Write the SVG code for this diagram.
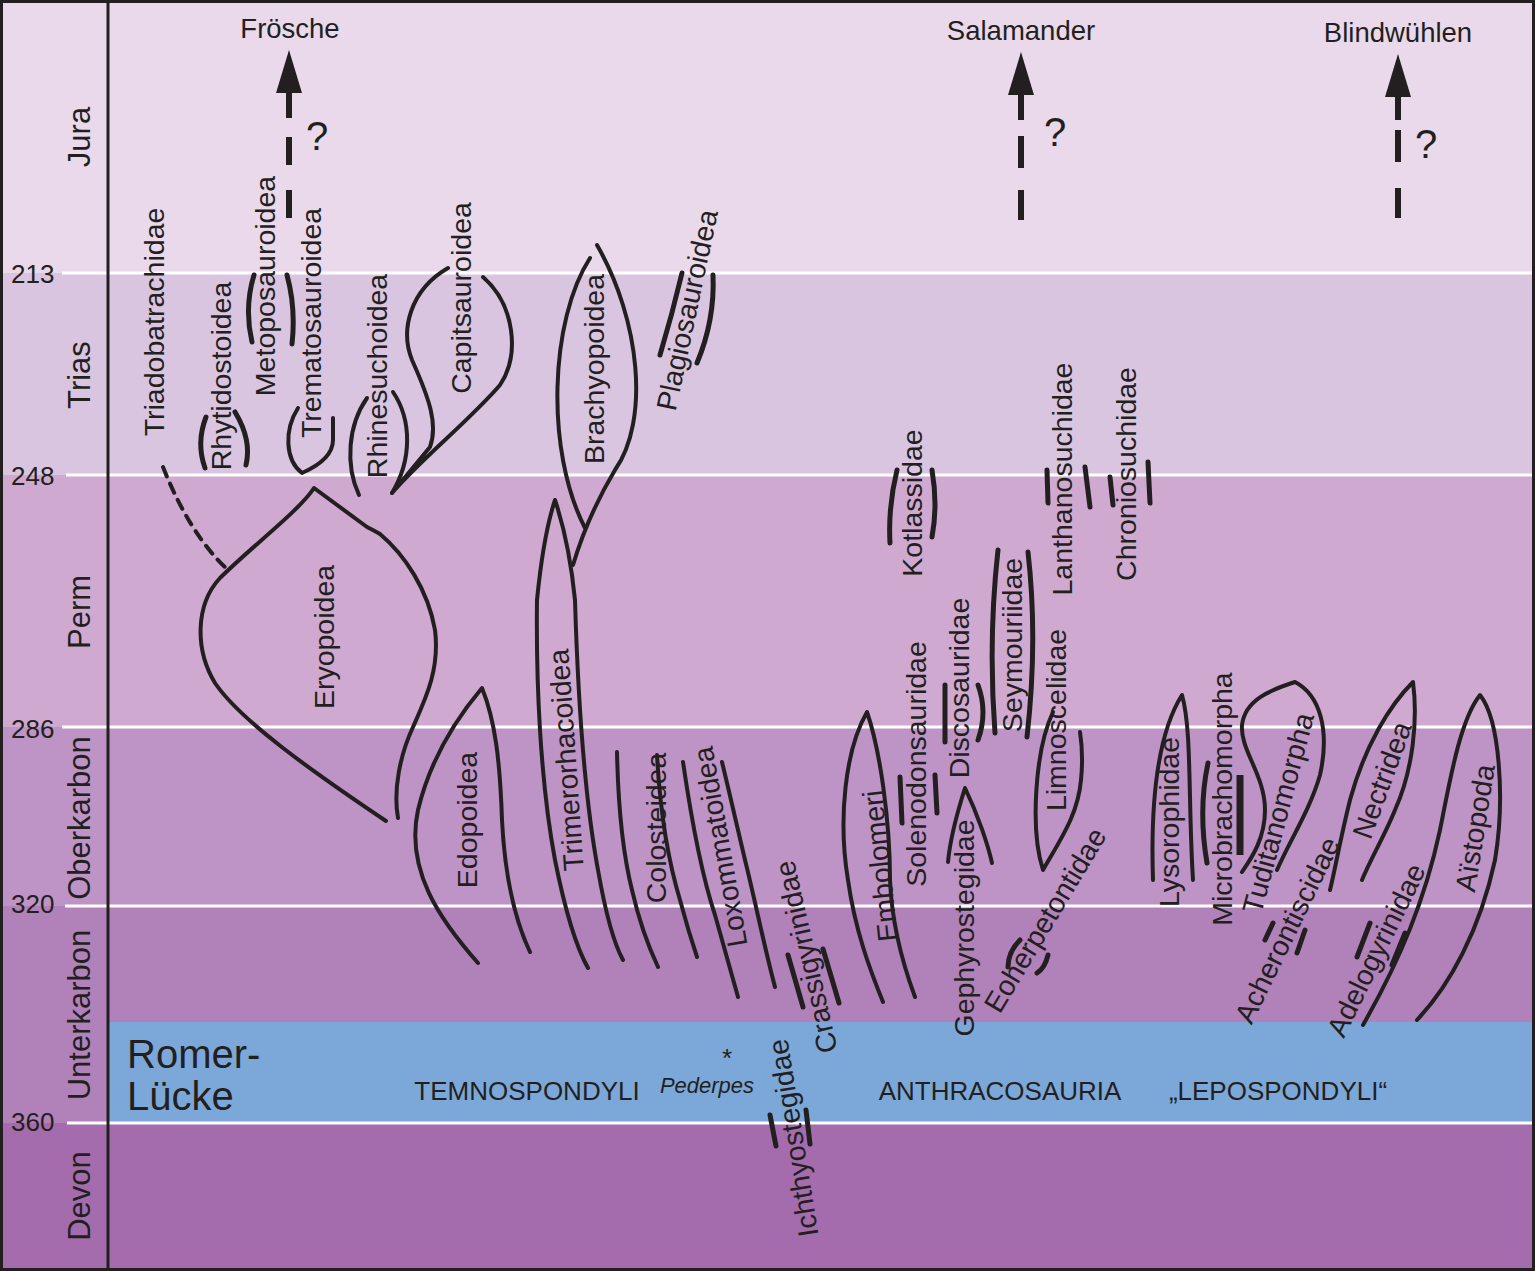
<svg xmlns="http://www.w3.org/2000/svg" width="1535" height="1271" viewBox="0 0 1535 1271">
<style>
.c{fill:none;stroke:#231f20;stroke-width:4;stroke-linecap:round;stroke-linejoin:round}
.b{fill:none;stroke:#231f20;stroke-width:5;stroke-linecap:round}
.d{fill:none;stroke:#231f20;stroke-width:6}
.wl{stroke:#fff;stroke-width:3}
.t{font-family:"Liberation Sans",Arial,sans-serif;font-size:28.5px;fill:#231f20;text-anchor:middle}
.p{font-family:"Liberation Sans",Arial,sans-serif;font-size:31px;fill:#231f20;text-anchor:middle}
.n{font-family:"Liberation Sans",Arial,sans-serif;font-size:26px;fill:#231f20}
.h{font-family:"Liberation Sans",Arial,sans-serif;font-size:26px;fill:#231f20;text-anchor:middle}
.top{font-family:"Liberation Sans",Arial,sans-serif;font-size:27.5px;fill:#231f20;text-anchor:middle}
.q{font-family:"Liberation Sans",Arial,sans-serif;font-size:40px;fill:#231f20;text-anchor:middle}
</style>
<defs>
<marker id="ah" viewBox="0 0 26 43" refX="13" refY="43" markerWidth="26" markerHeight="43" markerUnits="userSpaceOnUse" orient="0">
<path d="M13,0 L26,43 L0,43 Z" fill="#231f20"/>
</marker>
</defs>
<g id="background">
<rect x="0" y="0" width="1535" height="273" fill="#e9d9ea"/>
<rect x="0" y="273" width="1535" height="202" fill="#dac5e1"/>
<rect x="0" y="475" width="1535" height="252" fill="#cfa9cf"/>
<rect x="0" y="727" width="1535" height="179" fill="#be93c6"/>
<rect x="0" y="906" width="1535" height="217" fill="#b181b9"/>
<rect x="0" y="1123" width="1535" height="148" fill="#a46cad"/>
<rect x="108" y="1022" width="1427" height="100" fill="#7ba8d9"/>
<line class="wl" x1="62" y1="273" x2="1535" y2="273"/>
<line class="wl" x1="66" y1="475" x2="1535" y2="475"/>
<line class="wl" x1="62" y1="727" x2="1535" y2="727"/>
<line class="wl" x1="65" y1="906" x2="1535" y2="906"/>
<line class="wl" x1="67" y1="1123" x2="1535" y2="1123"/>
<rect x="1.5" y="1.5" width="1532" height="1268" fill="none" stroke="#231f20" stroke-width="3"/>
<line x1="108" y1="0" x2="108" y2="1271" stroke="#231f20" stroke-width="3"/>
</g>
<g id="timescale">
<text class="n" x="11" y="283">213</text>
<text class="n" x="11" y="485">248</text>
<text class="n" x="11" y="738">286</text>
<text class="n" x="11" y="913">320</text>
<text class="n" x="11" y="1131">360</text>
<text class="p" transform="translate(79,137) rotate(-90)" y="11">Jura</text>
<text class="p" transform="translate(79,375) rotate(-90)" y="11">Trias</text>
<text class="p" transform="translate(79,612) rotate(-90)" y="11">Perm</text>
<text class="p" transform="translate(79,818) rotate(-90)" y="11">Oberkarbon</text>
<text class="p" transform="translate(79,1015) rotate(-90)" y="11">Unterkarbon</text>
<text class="p" transform="translate(79,1196) rotate(-90)" y="11">Devon</text>
</g>
<g id="romer-gap">
<text font-family="Liberation Sans,Arial,sans-serif" font-size="40" fill="#231f20" x="127" y="1068">Romer-</text>
<text font-family="Liberation Sans,Arial,sans-serif" font-size="40" fill="#231f20" x="127" y="1110">Lücke</text>
</g>
<g id="groups">
<text class="h" x="527" y="1100">TEMNOSPONDYLI</text>
<text class="h" x="1000" y="1100">ANTHRACOSAURIA</text>
<text class="h" x="1278" y="1100">„LEPOSPONDYLI“</text>
</g>
<g id="pederpes">
<text font-family="Liberation Sans,Arial,sans-serif" font-size="22" font-style="italic" fill="#231f20" x="707" y="1093" text-anchor="middle">Pederpes</text>
<text font-family="Liberation Sans,Arial,sans-serif" font-size="26" fill="#231f20" x="727" y="1067" text-anchor="middle">*</text>
</g>
<g id="connectors">
<line class="d" x1="289" y1="93" x2="289" y2="118" marker-start="url(#ah)"/>
<path class="d" d="M289,137 V165 M289,190 V218"/>
<line class="d" x1="1021" y1="95" x2="1021" y2="120" marker-start="url(#ah)"/>
<path class="d" d="M1021,136 V168 M1021,190 V220"/>
<line class="d" x1="1398" y1="97" x2="1398" y2="120" marker-start="url(#ah)"/>
<path class="d" d="M1398,130 V162 M1398,188 V218"/>
</g>
<g id="froesche">
<text class="top" x="290" y="38">Frösche</text>
<text class="q" x="317" y="150">?</text>
</g>
<g id="salamander">
<text class="top" x="1021" y="40">Salamander</text>
<text class="q" x="1055" y="146">?</text>
</g>
<g id="blindwuehlen">
<text class="top" x="1398" y="42">Blindwühlen</text>
<text class="q" x="1426" y="158">?</text>
</g>
<g id="triadobatrachidae">
<path class="c" d="M163,467 Q190,535 228,570" stroke-dasharray="10 8" stroke-linecap="butt"/>
<text class="t" transform="translate(154,322) rotate(-90)" y="10">Triadobatrachidae</text>
</g>
<g id="rhytidostoidea">
<path class="b" d="M206,417 Q196,443 205,468 M235,412 Q252,440 246,465"/>
<text class="t" transform="translate(221,376) rotate(-90)" y="10">Rhytidostoidea</text>
</g>
<g id="metoposauroidea">
<path class="b" d="M254,275 Q244,308 252,342 M287,275 Q296,308 292,344"/>
<text class="t" transform="translate(265,286) rotate(-90)" y="10">Metoposauroidea</text>
</g>
<g id="trematosauroidea">
<path class="c" d="M298,408 C284,430 285,460 302,473 C320,465 333,455 333,440 L333,418"/>
<text class="t" transform="translate(311,323) rotate(-90)" y="10">Trematosauroidea</text>
</g>
<g id="rhinesuchoidea">
<path class="c" d="M367,398 C348,425 345,465 359,495 M393,392 C412,420 412,460 392,493"/>
<text class="t" transform="translate(377,376) rotate(-90)" y="10">Rhinesuchoidea</text>
</g>
<g id="capitsauroidea">
<path class="c" d="M448,268 C410,290 400,330 412,360 C430,400 438,425 430,447 L392,493 M483,277 C515,305 520,355 500,385 C470,420 420,460 392,493"/>
<text class="t" transform="translate(461,298) rotate(-90)" y="10">Capitsauroidea</text>
</g>
<g id="eryopoidea">
<path class="c" d="M386,821 C310,770 240,720 215,683 C195,650 195,605 220,578 C250,548 300,510 314,488 L367,527 Q375,531 380,534 C405,555 428,590 435,630 C440,670 425,700 413,727 C400,755 393,790 398,818"/>
<text class="t" transform="translate(324,637) rotate(-90)" y="10">Eryopoidea</text>
</g>
<g id="edopoidea">
<path class="c" d="M478,963 C440,920 405,870 418,810 C430,760 455,720 482,688 C495,720 500,760 502,820 C505,880 515,920 530,952"/>
<text class="t" transform="translate(467,820) rotate(-90)" y="10">Edopoidea</text>
</g>
<g id="trimerorhacoidea">
<path class="c" d="M588,968 C575,945 565,910 555,860 C540,780 536,680 537,600 C540,570 545,530 555,500 C565,530 572,570 575,600 C578,700 585,800 598,870 C605,910 612,940 623,960"/>
<text class="t" transform="translate(566,760) rotate(-94)" y="10">Trimerorhacoidea</text>
</g>
<g id="brachyopoidea">
<path class="c" d="M590,258 C550,320 545,450 585,528 M597,245 C640,320 650,420 615,470 C600,495 585,525 573,565"/>
<text class="t" transform="translate(594,369) rotate(-90)" y="10">Brachyopoidea</text>
</g>
<g id="plagiosauroidea">
<path class="b" d="M682,273 Q672,315 660,355 M713,275 Q715,320 697,363"/>
<text class="t" transform="translate(687,310) rotate(-78)" y="10">Plagiosauroidea</text>
</g>
<g id="colosteidea">
<path class="c" d="M617,752 C618,800 622,850 632,890 C640,925 650,950 658,967 M657,755 C660,810 668,860 680,900 C688,930 693,945 697,957"/>
<text class="t" transform="translate(656,828) rotate(-90)" y="10">Colosteidea</text>
</g>
<g id="loxommatoidea">
<path class="c" d="M683,762 C690,810 700,870 715,915 C725,950 732,975 738,997 M722,762 C730,795 738,830 745,860 C755,900 765,950 775,987"/>
<text class="t" transform="translate(720,847) rotate(-100)" y="10">Loxommatoidea</text>
</g>
<g id="crassigyrinidae">
<path class="b" d="M788,955 L803,1007 M823,949 L839,1003"/>
<text class="t" transform="translate(806,957) rotate(-103)" y="10">Crassigyrinidae</text>
</g>
<g id="ichthyostegidae">
<path class="b" d="M770,1115 L776,1146 M806,1110 L810,1144"/>
<text class="t" transform="translate(793,1138) rotate(-99)" y="10">Ichthyostegidae</text>
</g>
<g id="embolomeri">
<path class="c" d="M883,1002 C870,970 855,930 848,880 C838,820 845,750 867,712 C880,750 890,820 890,880 C892,930 905,970 915,997"/>
<text class="t" transform="translate(880,866) rotate(-96)" y="10">Embolomeri</text>
</g>
<g id="solenodonsauridae">
<path class="b" d="M900,777 L902,823 M935,775 L937,813"/>
<text class="t" transform="translate(916,764) rotate(-90)" y="10">Solenodonsauridae</text>
</g>
<g id="gephyrostegidae">
<path class="c" d="M948,862 C950,840 958,810 965,788 C978,815 988,845 992,863"/>
<text class="t" transform="translate(964,928) rotate(-90)" y="10">Gephyrostegidae</text>
</g>
<g id="discosauridae">
<path class="b" d="M945,685 L945,742 M978,685 Q988,712 978,740"/>
<text class="t" transform="translate(959,688) rotate(-90)" y="10">Discosauridae</text>
</g>
<g id="seymouriidae">
<path class="b" d="M998,550 Q988,640 995,733 M1028,552 Q1038,640 1027,737"/>
<text class="t" transform="translate(1012,645) rotate(-90)" y="10">Seymouriidae</text>
</g>
<g id="kotlassidae">
<path class="b" d="M897,470 Q888,507 890,543 M932,470 Q938,505 932,537"/>
<text class="t" transform="translate(912,503) rotate(-90)" y="10">Kotlassidae</text>
</g>
<g id="lanthanosuchidae">
<path class="b" d="M1047,470 L1048,503 M1085,467 L1090,507"/>
<text class="t" transform="translate(1062,479) rotate(-90)" y="10">Lanthanosuchidae</text>
</g>
<g id="chroniosuchidae">
<path class="b" d="M1110,477 L1113,505 M1148,462 L1150,503"/>
<text class="t" transform="translate(1126,474) rotate(-90)" y="10">Chroniosuchidae</text>
</g>
<g id="limnoscelidae">
<path class="c" d="M1053,712 C1035,750 1030,830 1043,870 C1060,840 1078,815 1081,780 C1083,760 1082,745 1080,732"/>
<text class="t" transform="translate(1056,720) rotate(-90)" y="10">Limnoscelidae</text>
</g>
<g id="eoherpetontidae">
<path class="b" d="M1020,940 Q1008,952 1008,967 M1048,955 Q1045,968 1037,973"/>
<text class="t" transform="translate(1045,920) rotate(-59)" y="10">Eoherpetontidae</text>
</g>
<g id="lysorophidae">
<path class="c" d="M1153,880 C1150,790 1160,730 1182,695 C1192,730 1188,800 1193,880"/>
<text class="t" transform="translate(1169,822) rotate(-90)" y="10">Lysorophidae</text>
</g>
<g id="microbrachomorpha">
<path class="b" d="M1208,763 Q1198,810 1207,863"/>
<line x1="1240" y1="775" x2="1240" y2="855" stroke="#231f20" stroke-width="7"/>
<text class="t" transform="translate(1222,799) rotate(-90)" y="10">Microbrachomorpha</text>
</g>
<g id="tuditanomorpha">
<path class="c" d="M1242,872 C1250,860 1265,840 1265,810 C1265,775 1240,750 1242,725 C1245,700 1270,690 1295,682 C1320,695 1330,730 1320,775 C1310,810 1290,840 1277,870"/>
<text class="t" transform="translate(1278,813) rotate(-75)" y="10">Tuditanomorpha</text>
</g>
<g id="acherontiscidae">
<path class="b" d="M1273,923 L1265,940 M1305,930 L1297,953"/>
<text class="t" transform="translate(1287,930) rotate(-64)" y="10">Acherontiscidae</text>
</g>
<g id="nectridea">
<path class="c" d="M1330,890 C1335,870 1340,840 1350,800 C1365,745 1390,705 1413,682 C1418,720 1413,770 1395,810 C1385,835 1370,860 1362,880"/>
<text class="t" transform="translate(1382,780) rotate(-70)" y="10">Nectridea</text>
</g>
<g id="adelogyrinidae">
<path class="b" d="M1370,923 L1357,957 M1405,933 L1392,965"/>
<text class="t" transform="translate(1376,950) rotate(-64)" y="10">Adelogyrinidae</text>
</g>
<g id="aistopoda">
<path class="c" d="M1363,1025 C1400,960 1425,900 1440,830 C1450,780 1460,720 1480,695 C1500,720 1505,800 1495,860 C1480,930 1450,985 1417,1020"/>
<text class="t" transform="translate(1475,828) rotate(-81)" y="10">Aïstopoda</text>
</g>
</svg>
